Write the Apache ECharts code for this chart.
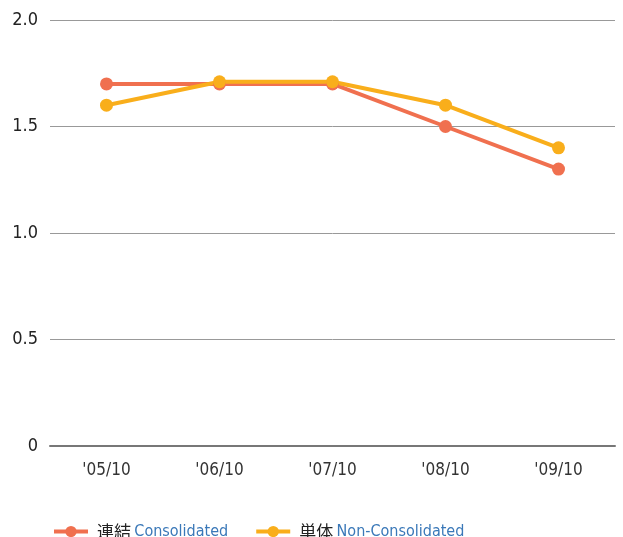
<!DOCTYPE html>
<html><head><meta charset="utf-8">
<script src="https://cdn.jsdelivr.net/npm/echarts@6/dist/echarts.min.js"></script>
<style>html,body{margin:0;padding:0;background:#fff}#c{width:623px;height:537px}</style>
</head><body><div id="c"></div>
<script>
const categories = ["'05/10","'06/10","'07/10","'08/10","'09/10"];
const consolidated = [1.7,1.7,1.7,1.5,1.3];
const nonConsolidated = [1.6,1.71,1.71,1.6,1.4];
const yTicks = [0,0.5,1.0,1.5,2.0];
const seriesNames = [['連結','Consolidated'],['単体','Non-Consolidated']];
const FONT = "'DejaVu Sans Condensed','Liberation Sans Narrow','Roboto',sans-serif";
const chart = echarts.init(document.getElementById('c'));
chart.setOption({
  animation:false,
  grid:{left:50,top:20,width:565,height:426},
  xAxis:{type:'category',data:categories,boundaryGap:true,
    axisLine:{show:true,lineStyle:{color:'#777',width:2}},axisTick:{show:false},
    axisLabel:{color:'#333',fontSize:17,fontFamily:FONT,margin:16}},
  yAxis:{type:'value',min:0,max:2,interval:0.5,
    axisLabel:{color:'#222',fontSize:18,fontFamily:FONT,margin:12,
      formatter:v=>{const t=yTicks.find(x=>Math.abs(x-v)<1e-9);return t===0?'0':t.toFixed(1);}},
    splitLine:{lineStyle:{color:'#999',width:1}},
    axisLine:{show:false},axisTick:{show:false}},
  legend:{left:47,top:518,itemWidth:34,itemHeight:14,itemGap:26,
    data:seriesNames.map(n=>n[0]),
    lineStyle:{width:4},
    formatter:name=>{const p=seriesNames.find(n=>n[0]===name);return '{a|'+p[0]+'} {b|'+p[1]+'}';},
    textStyle:{padding:[0,0,0,4],rich:{a:{color:'#222',fontSize:17,fontFamily:"'Noto Sans CJK JP',sans-serif"},
      b:{color:'#3a78b8',fontSize:16,fontFamily:FONT}}}},
  series:[
    {name:seriesNames[0][0],type:'line',data:consolidated,color:'#F0704F',
      symbol:'circle',symbolSize:13,lineStyle:{width:4}},
    {name:seriesNames[1][0],type:'line',data:nonConsolidated,color:'#F9AE1B',
      symbol:'circle',symbolSize:13,lineStyle:{width:4}}
  ]
});
</script></body></html>
